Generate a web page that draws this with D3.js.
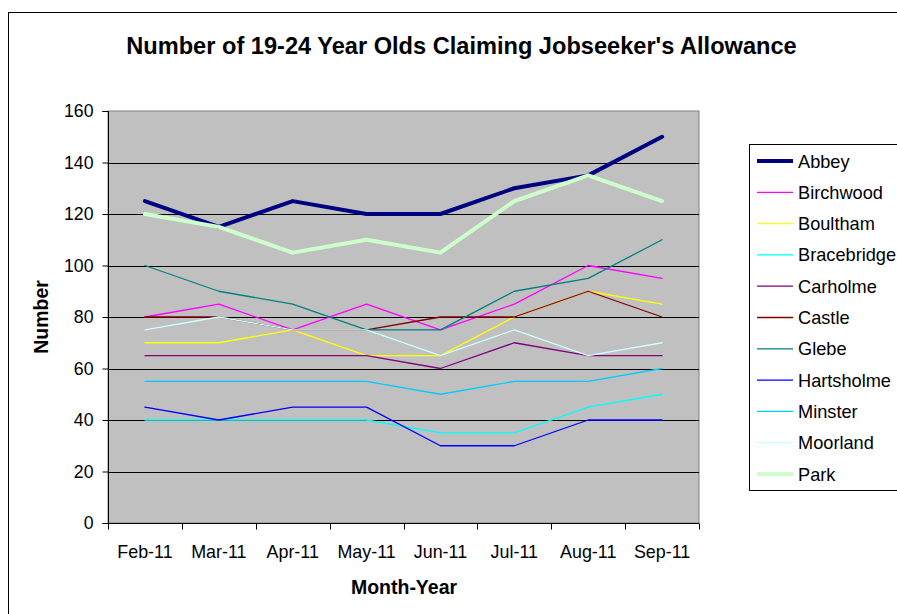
<!DOCTYPE html>
<html>
<head>
<meta charset="utf-8">
<script src="https://d3js.org/d3.v7.min.js"></script>
<style>
  html, body { margin: 0; padding: 0; background: #fff; }
  svg { display: block; font-family: "Liberation Sans", Arial, sans-serif; }
</style>
</head>
<body>
<svg id="chart" width="897" height="614"></svg>
<script>
// Monthly claimant counts for 19-24 year olds by ward
const months = ["Feb-11", "Mar-11", "Apr-11", "May-11", "Jun-11", "Jul-11", "Aug-11", "Sep-11"];
const yTicks = [0, 20, 40, 60, 80, 100, 120, 140, 160];

const abbey       = [125, 115, 125, 120, 120, 130, 135, 150];
const birchwood   = [80, 85, 75, 85, 75, 85, 100, 95];
const boultham    = [70, 70, 75, 65, 65, 80, 90, 85];
const bracebridge = [40, 40, 40, 40, 35, 35, 45, 50];
const carholme    = [65, 65, 65, 65, 60, 70, 65, 65];
const castle      = [80, 80, 75, 75, 80, 80, 90, 80];
const glebe       = [100, 90, 85, 75, 75, 90, 95, 110];
const hartsholme  = [45, 40, 45, 45, 30, 30, 40, 40];
const minster     = [55, 55, 55, 55, 50, 55, 55, 60];
const moorland    = [75, 80, 75, 75, 65, 75, 65, 70];
const park        = [120, 115, 105, 110, 105, 125, 135, 125];

const series = [
  { name: "Abbey",       values: abbey,       color: "#000080", width: 4 },
  { name: "Birchwood",   values: birchwood,   color: "#FF00FF", width: 1.3 },
  { name: "Boultham",    values: boultham,    color: "#FFFF00", width: 1.3 },
  { name: "Bracebridge", values: bracebridge, color: "#00FFFF", width: 1.3 },
  { name: "Carholme",    values: carholme,    color: "#800080", width: 1.3 },
  { name: "Castle",      values: castle,      color: "#800000", width: 1.3 },
  { name: "Glebe",       values: glebe,       color: "#008080", width: 1.3 },
  { name: "Hartsholme",  values: hartsholme,  color: "#0000FF", width: 1.3 },
  { name: "Minster",     values: minster,     color: "#00CCFF", width: 1.3 },
  { name: "Moorland",    values: moorland,    color: "#CCFFFF", width: 1.3 },
  { name: "Park",        values: park,        color: "#CCFFCC", width: 4 }
];

const svg = d3.select("#chart");

// Outer chart frame
svg.append("rect")
  .attr("x", 8.5).attr("y", 12.5)
  .attr("width", 897).attr("height", 620)
  .attr("fill", "#fff").attr("stroke", "#000").attr("stroke-width", 1);

const plot = { left: 108, top: 111, right: 699, bottom: 523 };

const x = d3.scaleBand().domain(months).range([plot.left, plot.right]);
const y = d3.scaleLinear().domain([0, 160]).range([plot.bottom, plot.top]);

// Plot background
svg.append("rect")
  .attr("x", plot.left).attr("y", plot.top)
  .attr("width", plot.right - plot.left).attr("height", plot.bottom - plot.top)
  .attr("fill", "#C0C0C0").attr("stroke", "#808080").attr("stroke-width", 1);

// Horizontal gridlines
svg.append("g")
  .selectAll("line")
  .data(yTicks.filter(d => d > 0 && d < 160))
  .join("line")
  .attr("x1", plot.left).attr("x2", plot.right)
  .attr("y1", d => Math.round(y(d)) + 0.5).attr("y2", d => Math.round(y(d)) + 0.5)
  .attr("stroke", "#000").attr("stroke-width", 1);

// Y axis
const yAxis = svg.append("g")
  .attr("transform", `translate(${plot.left + 0.5},0)`)
  .call(d3.axisLeft(y).tickValues(yTicks).tickSize(6).tickPadding(9).tickFormat(d3.format("d")));
yAxis.select(".domain").attr("stroke", "#000").attr("d", `M-6,${plot.top + 0.5}H0V${plot.bottom + 0.5}H-6`);
yAxis.selectAll(".tick line").attr("stroke", "#000");
yAxis.selectAll(".tick text").attr("font-size", 17.7).attr("fill", "#000")
  .attr("font-family", "Liberation Sans, Arial, sans-serif");

// X axis with ticks on category boundaries
const xAxisG = svg.append("g").attr("transform", `translate(0,${plot.bottom + 0.5})`);
xAxisG.append("line")
  .attr("x1", plot.left).attr("x2", plot.right)
  .attr("stroke", "#000");
const bounds = months.map(m => x(m)).concat([plot.right]);
xAxisG.selectAll("line.tick")
  .data(bounds)
  .join("line")
  .attr("class", "tick")
  .attr("x1", d => Math.round(d) + 0.5).attr("x2", d => Math.round(d) + 0.5)
  .attr("y1", 0).attr("y2", 6)
  .attr("stroke", "#000");
xAxisG.selectAll("text")
  .data(months)
  .join("text")
  .attr("x", d => x(d) + x.bandwidth() / 2)
  .attr("y", 34.5)
  .attr("text-anchor", "middle")
  .attr("font-size", 17.9)
  .text(d => d);

// Series lines
const line = d3.line()
  .x((d, i) => x(months[i]) + x.bandwidth() / 2)
  .y(d => y(d));

svg.append("g")
  .selectAll("path")
  .data(series)
  .join("path")
  .attr("d", s => line(s.values))
  .attr("fill", "none")
  .attr("stroke", s => s.color)
  .attr("stroke-width", s => s.width)
  .attr("stroke-linejoin", "round")
  .attr("stroke-linecap", "round");

// Title and axis titles
svg.append("text")
  .attr("x", 461.5).attr("y", 54)
  .attr("text-anchor", "middle")
  .attr("font-size", 23.6).attr("font-weight", "bold")
  .text("Number of 19-24 Year Olds Claiming Jobseeker's Allowance");

svg.append("text")
  .attr("transform", `translate(48,${(plot.top + plot.bottom) / 2}) rotate(-90)`)
  .attr("text-anchor", "middle")
  .attr("font-size", 19.5).attr("font-weight", "bold")
  .text("Number");

svg.append("text")
  .attr("x", 404).attr("y", 594)
  .attr("text-anchor", "middle")
  .attr("font-size", 19.5).attr("font-weight", "bold")
  .text("Month-Year");

// Legend
const legend = svg.append("g");
legend.append("rect")
  .attr("x", 749.5).attr("y", 144.5)
  .attr("width", 200).attr("height", 346)
  .attr("fill", "#fff").attr("stroke", "#000").attr("stroke-width", 1);

const item = legend.selectAll("g.item")
  .data(series)
  .join("g")
  .attr("class", "item")
  .attr("transform", (d, i) => `translate(0,${161 + i * 31.3})`);
item.append("line")
  .attr("x1", 757).attr("x2", 793)
  .attr("stroke", d => d.color)
  .attr("stroke-width", d => d.width);
item.append("text")
  .attr("x", 798).attr("y", 6.5)
  .attr("font-size", 18.2)
  .text(d => d.name);
</script>
</body>
</html>
